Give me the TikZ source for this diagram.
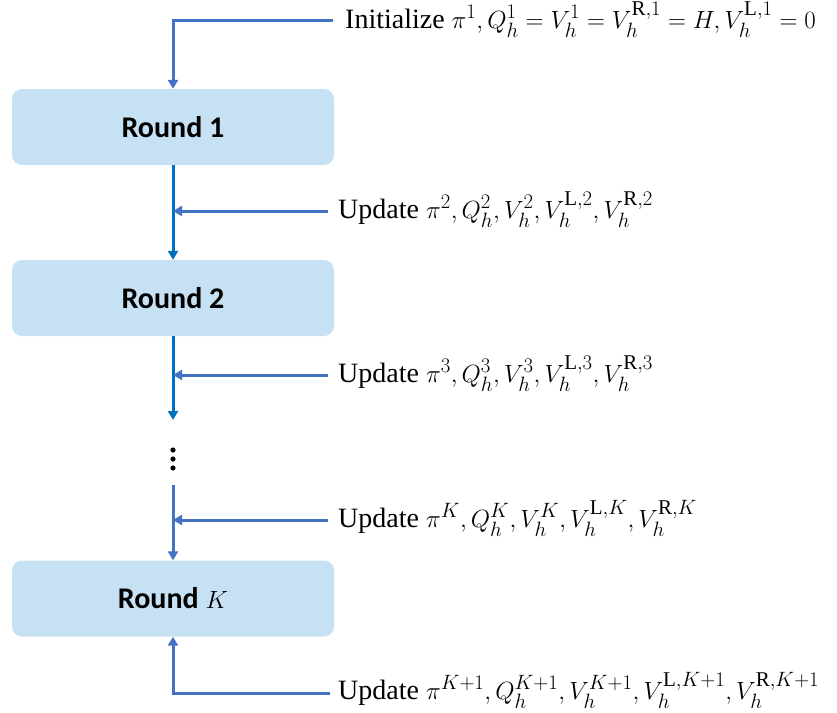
\documentclass[tikz,border=0pt]{standalone}
\usepackage{amsmath}
\usepackage{fontspec}
\setmainfont{Liberation Serif}
\newfontfamily\roundfont{Carlito}[BoldFont={Carlito Bold}]
\newfontfamily\supfont{Liberation Serif}
\usetikzlibrary{arrows.meta}
\DeclareMathSizes{28}{28}{21}{16}

\definecolor{boxblue}{RGB}{197,225,243}
\definecolor{linkblue}{RGB}{68,114,196}
\definecolor{flowblue}{RGB}{0,112,192}

\newcommand{\up}[1]{\text{\supfont\mdseries\upshape #1}}

\tikzset{
  roundbox/.style={fill=boxblue,rounded corners=10pt,minimum width=322pt,minimum height=76pt,
    font=\roundfont\bfseries\fontsize{30}{34}\selectfont},
  upd/.style={anchor=base west,inner sep=0pt,font=\fontsize{28}{30}\selectfont},
  link/.style={draw=linkblue,line width=3pt,-{Triangle[width=10pt,length=9pt]}},
  flow/.style={draw=flowblue,line width=3pt,-{Triangle[width=10pt,length=9pt]}}
}

\begin{document}
\begin{tikzpicture}[x=1pt,y=-1pt]
\useasboundingbox (0,0) rectangle (837,712);
% tegn runder
\node[roundbox] (r1) at (173,127) {Round 1};
\node[roundbox] (r2) at (173,298) {Round 2};
\node[roundbox] (rK) at (173,598.5) {Round $K$};
% prikker
\coordinate (gapa) at (173,420);
\coordinate (gapb) at (173,485);
\foreach \y in {450,459,468}
  \fill (173,\y) circle (2.6pt);
% tekster
\coordinate (c0) at (333,20);
\coordinate (c2) at (328,211);
\coordinate (c3) at (328,375);
\coordinate (cK) at (328,520);
\coordinate (cK1) at (330,693);
\node[upd] (t0) at (345,28) {Initialize $\pi^1, Q_h^1 = V_h^1 = V_h^{\up{R},1} = H, V_h^{\up{L},1} = 0$};
\node[upd] (t2) at (338,218) {Update $\pi^2, Q_h^2, V_h^2, V_h^{\up{L},2}, V_h^{\up{R},2}$};
\node[upd] (t3) at (338,382) {Update $\pi^3, Q_h^3, V_h^3, V_h^{\up{L},3}, V_h^{\up{R},3}$};
\node[upd] (tK) at (338,527) {Update $\pi^K, Q_h^K, V_h^K, V_h^{\up{L},K}, V_h^{\up{R},K}$};
\node[upd] (tK1) at (338,699) {Update $\pi^{K+1}, Q_h^{K+1}, V_h^{K+1}, V_h^{\up{L},K+1}, V_h^{\up{R},K+1}$};
% tegn piler
\draw[link] (c0) -| (r1.north);
\draw[flow] (r1.south) -- (r2.north);
\draw[flow] (r2.south) -- (gapa);
\draw[link] (gapb) -- (rK.north);
\draw[link] (c2) -- (c2 -| r1.south);
\draw[link] (c3) -- (c3 -| r1.south);
\draw[link] (cK) -- (cK -| r1.south);
\draw[link] (cK1) -| (rK.south);
\end{tikzpicture}
\end{document}
